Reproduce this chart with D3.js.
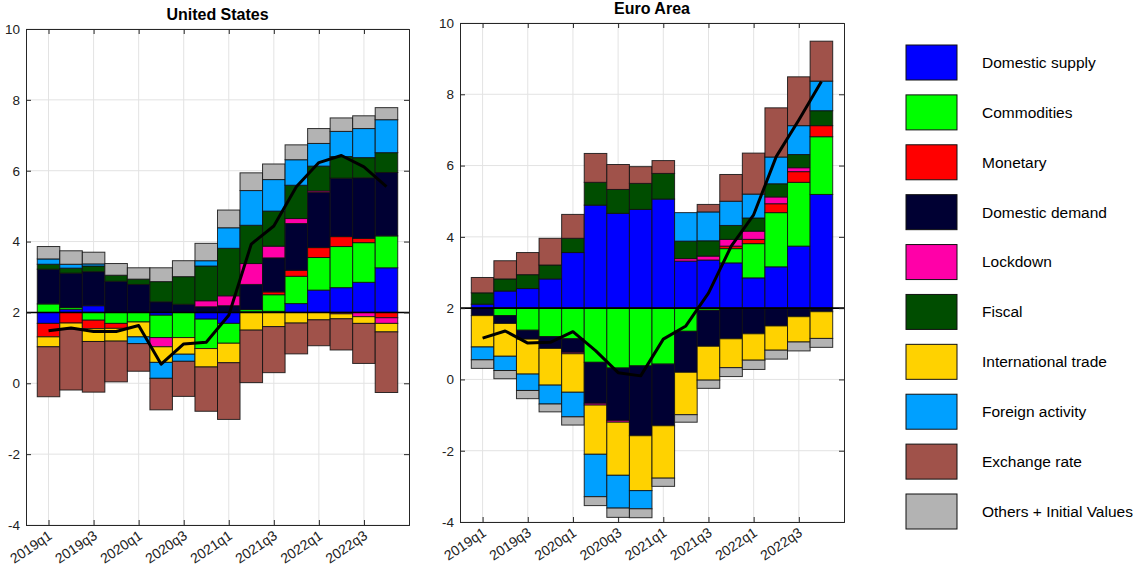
<!DOCTYPE html>
<html><head><meta charset="utf-8">
<script src="https://cdn.jsdelivr.net/npm/d3@7"></script>
<style>
body{margin:0;background:#fff}
svg{display:block}
text{font-family:"Liberation Sans",Arial,Helvetica,sans-serif}
</style>
</head><body>
<svg id="c" width="1133" height="573"></svg>
<script>
// ---------- data ----------
const quarters = ["2019q1","2019q2","2019q3","2019q4","2020q1","2020q2","2020q3","2020q4",
                  "2021q1","2021q2","2021q3","2021q4","2022q1","2022q2","2022q3","2022q4"];
const xTickLabels = ["2019q1","2019q3","2020q1","2020q3","2021q1","2021q3","2022q1","2022q3"];
const yTicks = [-4,-2,0,2,4,6,8,10];
const baseline = 2;
const seriesNames = ["Domestic supply","Commodities","Monetary","Domestic demand","Lockdown",
                     "Fiscal","International trade","Foreign activity","Exchange rate","Others + Initial Values"];
const seriesColors = ["#0000ff","#00ff00","#ff0000","#000033","#ff00a8",
                      "#004d00","#ffd200","#00a0ff","#a0524a","#b3b3b3"];

// United States contributions (deviation from 2%)
const usDomesticSupply   = [-0.31,0.09,0.19,0,0,-0.08,0,-0.19,-0.31,0.02,0.03,0.25,0.63,0.70,0.85,1.26];
const usCommodities      = [0.24,0.05,-0.22,-0.31,-0.27,-0.63,-0.71,-0.83,-0.56,0.06,0.47,0.77,0.92,1.16,1.12,0.90];
const usMonetary         = [-0.38,-0.30,-0.24,-0.14,0,0,0,0,0,0,0.08,0.17,0.28,0.28,0.12,-0.15];
const usDomesticDemand   = [0.98,0.97,0.96,0.88,0.79,0.30,0.23,0.16,0.19,0.71,0.96,1.32,1.56,1.65,1.71,1.79];
const usLockdown         = [0,0,0,0,0,-0.26,0,0.17,0.28,0.59,0.33,0.14,0.04,-0.04,-0.12,-0.16];
const usFiscal           = [0.14,0.14,0.16,0.17,0.15,0.57,0.78,0.98,1.34,1.08,0.99,0.94,0.70,0.61,0.57,0.56];
const usIntlTrade        = [-0.28,-0.17,-0.36,-0.36,-0.42,-0.44,-0.47,-0.52,-0.55,-0.50,-0.40,-0.30,-0.21,-0.14,-0.19,-0.24];
const usForeignActivity  = [0.15,0.11,0.06,0,-0.19,-0.45,-0.20,0.15,0.58,0.98,0.89,0.72,0.64,0.71,0.82,0.93];
const usExchangeRate     = [-1.41,-1.72,-1.43,-1.15,-0.78,-0.89,-0.99,-1.25,-1.60,-1.48,-1.30,-0.87,-0.73,-0.88,-1.13,-1.71];
const usOthers           = [0.35,0.38,0.33,0.33,0.32,0.39,0.45,0.49,0.50,0.50,0.44,0.42,0.42,0.38,0.36,0.34];
const usInflation        = [1.48,1.56,1.46,1.46,1.63,0.54,1.11,1.16,1.92,3.93,4.44,5.55,6.23,6.43,6.11,5.55];

// Euro Area contributions (deviation from 2%)
const eaDomesticSupply   = [0.11,0.48,0.55,0.82,1.56,2.89,2.66,2.77,3.06,1.32,1.35,1.27,0.85,1.16,1.74,3.19];
const eaCommodities      = [0,-0.21,-0.62,-0.80,-0.86,-1.52,-1.68,-1.62,-1.57,-0.65,-0.06,0.40,0.96,1.52,1.79,1.62];
const eaMonetary         = [0,0,0,0,0,0,0,0,0,0,0,0.07,0.12,0.25,0.30,0.31];
const eaDomesticDemand   = [-0.21,-0.22,-0.25,-0.33,-0.38,-1.15,-1.47,-1.96,-1.73,-1.15,-1.01,-0.86,-0.72,-0.50,-0.24,-0.10];
const eaLockdown         = [0,0,0,0,-0.04,-0.05,-0.05,0,0,0.07,0.11,0.19,0.23,0.19,0.11,0];
const eaFiscal           = [0.32,0.34,0.39,0.39,0.40,0.64,0.67,0.73,0.72,0.49,0.43,0.39,0.37,0.37,0.37,0.42];
const eaIntlTrade        = [-0.88,-0.92,-0.98,-1.03,-1.08,-1.38,-1.49,-1.54,-1.47,-1.19,-0.95,-0.81,-0.74,-0.68,-0.71,-0.75];
const eaForeignActivity  = [-0.36,-0.40,-0.46,-0.53,-0.69,-1.19,-0.92,-0.51,0,0.80,0.81,0.68,0.67,0.75,0.81,0.83];
const eaExchangeRate     = [0.43,0.51,0.62,0.75,0.67,0.81,0.70,0.47,0.36,0,0.21,0.75,1.15,1.38,1.37,1.12];
const eaOthers           = [-0.24,-0.23,-0.23,-0.22,-0.23,-0.25,-0.26,-0.25,-0.23,-0.21,-0.23,-0.25,-0.26,-0.25,-0.25,-0.25];
const eaInflation        = [1.16,1.36,1.02,1.04,1.34,0.81,0.19,0.10,1.13,1.50,2.42,3.73,4.62,6.25,7.28,8.36];

const usSeries = [usDomesticSupply,usCommodities,usMonetary,usDomesticDemand,usLockdown,
                  usFiscal,usIntlTrade,usForeignActivity,usExchangeRate,usOthers];
const eaSeries = [eaDomesticSupply,eaCommodities,eaMonetary,eaDomesticDemand,eaLockdown,
                  eaFiscal,eaIntlTrade,eaForeignActivity,eaExchangeRate,eaOthers];

// ---------- drawing ----------
const svg = d3.select("#c");

function drawPanel(p, title, series, infl) {
  const x = d3.scaleLinear().domain([0, quarters.length + 1]).range([p.left, p.right]);
  const y = d3.scaleLinear().domain([-4, 10]).range([p.bottom, p.top]);
  const g = svg.append("g");
  const tickIdx = xTickLabels.map(l => quarters.indexOf(l) + 1);

  // grid
  g.selectAll(".gx").data(tickIdx).join("line")
    .attr("x1", d => x(d)).attr("x2", d => x(d)).attr("y1", p.top).attr("y2", p.bottom)
    .attr("stroke", "#e3e3e3").attr("stroke-width", 1);
  g.selectAll(".gy").data(yTicks).join("line")
    .attr("x1", p.left).attr("x2", p.right).attr("y1", d => y(d)).attr("y2", d => y(d))
    .attr("stroke", "#e3e3e3").attr("stroke-width", 1);

  // stacked segments
  const segs = [];
  quarters.forEach((q, i) => {
    let pos = baseline, neg = baseline;
    series.forEach((arr, s) => {
      const v = arr[i];
      if (!v) return;
      if (v > 0) { segs.push({i, s, y0: pos, y1: pos + v}); pos += v; }
      else { segs.push({i, s, y0: neg + v, y1: neg}); neg += v; }
    });
  });
  const bw = x(1) - x(0);
  g.selectAll(".seg").data(segs).join("rect")
    .attr("x", d => x(d.i + 1) - bw / 2)
    .attr("width", bw)
    .attr("y", d => y(d.y1))
    .attr("height", d => Math.max(0, y(d.y0) - y(d.y1)))
    .attr("fill", d => seriesColors[d.s])
    .attr("stroke", "#111").attr("stroke-width", 1).attr("stroke-opacity", 0.85);

  // baseline
  g.append("line").attr("x1", p.left).attr("x2", p.right)
    .attr("y1", y(baseline)).attr("y2", y(baseline))
    .attr("stroke", "#000").attr("stroke-width", 1.6);

  // inflation line
  g.append("path").datum(infl)
    .attr("d", d3.line().x((d, i) => x(i + 1)).y(d => y(d)))
    .attr("fill", "none").attr("stroke", "#000").attr("stroke-width", 3)
    .attr("stroke-linejoin", "round");

  // axes
  const ax = "#262626";
  const left = g.append("g").attr("transform", `translate(${p.left},0)`)
    .call(d3.axisLeft(y).tickValues(yTicks).tickSize(-5).tickPadding(6).tickFormat(d => String(d)));
  const right = g.append("g").attr("transform", `translate(${p.right},0)`)
    .call(d3.axisRight(y).tickValues(yTicks).tickSize(-5).tickFormat(""));
  const top = g.append("g").attr("transform", `translate(0,${p.top})`)
    .call(d3.axisTop(x).tickValues(tickIdx).tickSize(-5).tickFormat(""));
  const bottom = g.append("g").attr("transform", `translate(0,${p.bottom})`)
    .call(d3.axisBottom(x).tickValues(tickIdx).tickSize(-5).tickFormat((d, i) => xTickLabels[i]));
  [left, right, top, bottom].forEach(a => {
    a.select(".domain").attr("stroke", ax).attr("stroke-width", 1);
    a.selectAll(".tick line").attr("stroke", ax);
    a.selectAll("text").attr("fill", "#222").style("font-size", "13.5px")
      .style("font-family", '"Liberation Sans",Arial,sans-serif');
  });
  bottom.selectAll("text")
    .attr("text-anchor", "end").attr("y", 0).attr("dy", "0")
    .attr("transform", "translate(4,13) rotate(-34)")
    .style("font-size", "14px");

  svg.append("text").attr("x", (p.left + p.right) / 2).attr("y", p.top - 9)
    .attr("text-anchor", "middle").attr("font-weight", "bold")
    .style("font-size", "16px").attr("fill", "#000").text(title);
}

drawPanel({left: 26, right: 409, top: 29, bottom: 525}, "United States", usSeries, usInflation);
drawPanel({left: 460, right: 844, top: 23, bottom: 522}, "Euro Area", eaSeries, eaInflation);

// legend
const leg = svg.append("g");
const legY = d3.scaleLinear().domain([0, seriesNames.length - 1]).range([62.5, 511.5]);
seriesNames.forEach((name, k) => {
  leg.append("rect").attr("x", 906).attr("y", legY(k) - 17.5).attr("width", 51).attr("height", 35)
    .attr("fill", seriesColors[k]).attr("stroke", "#111").attr("stroke-width", 1);
  leg.append("text").attr("x", 982).attr("y", legY(k)).attr("dy", "0.35em")
    .style("font-size", "15.5px").attr("fill", "#000").text(name);
});
</script>
</body></html>
